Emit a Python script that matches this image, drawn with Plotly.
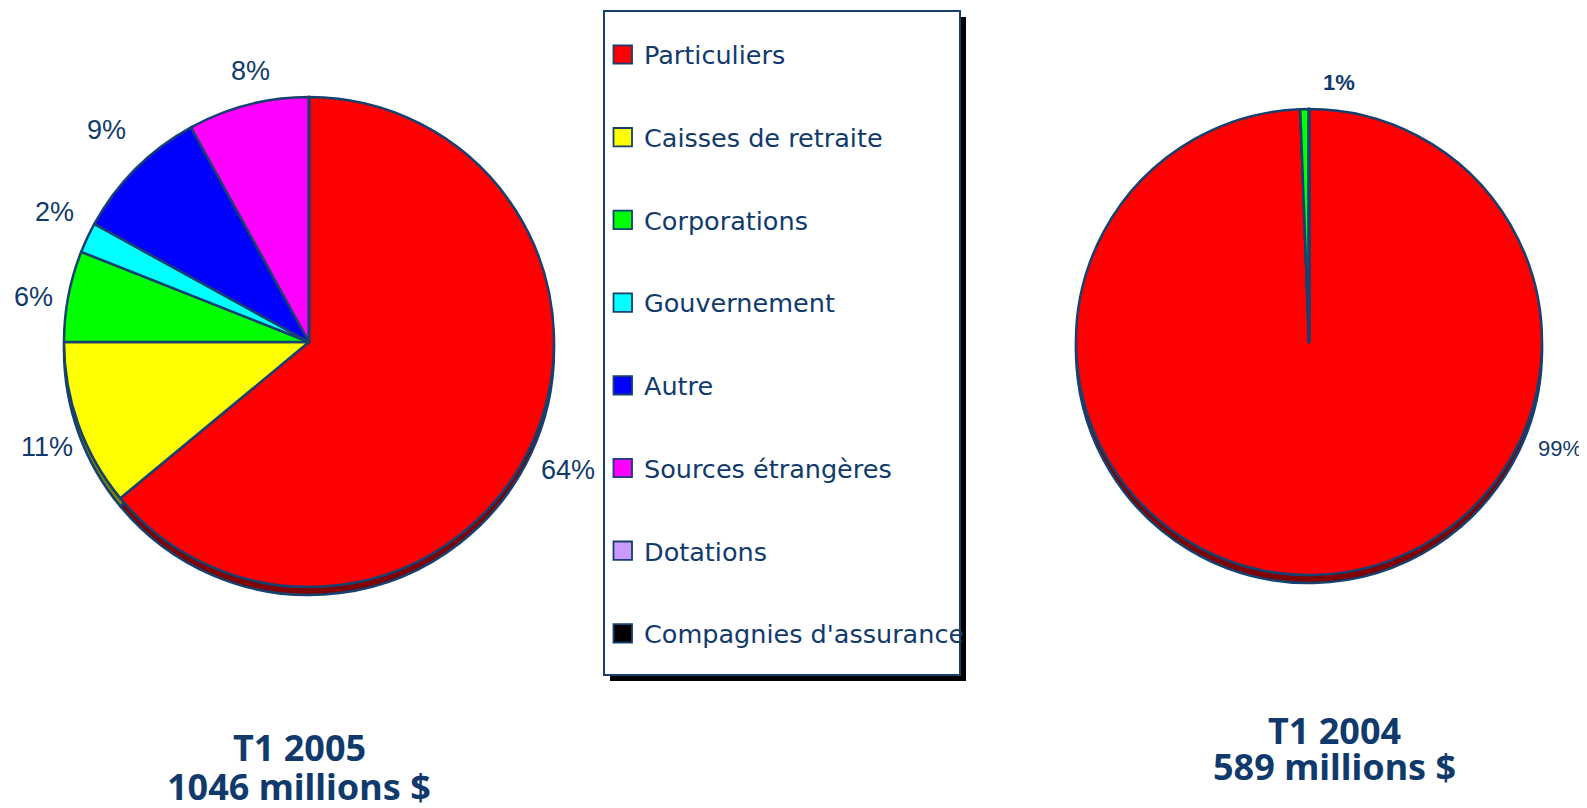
import plotly.graph_objects as go

# Page is 1587x808; the HTML body has an 8px margin, so the figure is drawn
# 8px smaller and every page coordinate is shifted by that margin.
PAGE_W, PAGE_H = 1587, 808
OFF = 8
W, H = PAGE_W - OFF, PAGE_H - OFF

# ---------------- data ----------------
categories = ["Particuliers", "Caisses de retraite", "Corporations", "Gouvernement",
              "Autre", "Sources étrangères", "Dotations", "Compagnies d'assurance"]
colors = ["#FF0000", "#FFFF00", "#00FF00", "#00FFFF", "#0000FF", "#FF00FF", "#CC99FF", "#000000"]
shadow_colors = ["#800000", "#808000", "#008000", "#008080", "#000080", "#800080", "#664C80", "#000000"]

share_2005 = [64, 11, 6, 2, 9, 8, 0, 0]      # % of 1046 M$
share_2004 = [99.4, 0, 0.6, 0, 0, 0, 0, 0]   # % of 589 M$

title_2005 = ["T1 2005", "1046 millions $"]
title_2004 = ["T1 2004", "589 millions $"]

# label positions (page pixels) for the non-zero slices of each pie
label_pos_2005 = {0: (568, 470), 1: (47, 447), 2: (34, 297), 3: (54, 212), 4: (106, 130), 5: (250, 71)}
label_pos_2004 = {0: (1560, 448), 2: (1339, 82)}

# ---------------- style / geometry ----------------
NAVY = "#113A6C"
OUTLINE = "#15406F"
SHADOW = 8

LEFT = dict(cx=309, cy=342, r=245)
RIGHT = dict(cx=1309, cy=342, r=233)


def px(x):
    return (x - OFF) / W


def py(y):
    return 1 - (y - OFF) / H


def pie_domain(cx, cy, r):
    return dict(x=[px(cx - r), px(cx + r)], y=[py(cy + r), py(cy - r)])


fig = go.Figure()


def add_pie(values, geo, name):
    # extruded "3D" edge
    fig.add_trace(go.Pie(
        labels=categories, values=values, sort=False, direction="clockwise", rotation=0,
        marker=dict(colors=shadow_colors, line=dict(color=OUTLINE, width=2.5)),
        domain=pie_domain(geo["cx"], geo["cy"] + SHADOW, geo["r"]),
        textinfo="none", hoverinfo="skip", showlegend=False, name=name + " ombre"))
    fig.add_trace(go.Pie(
        labels=categories, values=values, sort=False, direction="clockwise", rotation=0,
        marker=dict(colors=colors, line=dict(color=OUTLINE, width=2.5)),
        domain=pie_domain(geo["cx"], geo["cy"], geo["r"]),
        textinfo="none", hovertemplate="%{label}: %{percent}<extra></extra>",
        showlegend=False, name=name))


add_pie(share_2005, LEFT, "T1 2005")
add_pie(share_2004, RIGHT, "T1 2004")

annotations = []

total05 = sum(share_2005)
for i, (x, y) in label_pos_2005.items():
    annotations.append(dict(
        x=px(x), y=py(y), xref="paper", yref="paper", showarrow=False,
        text=f"{round(share_2005[i] / total05 * 100)}%", xanchor="center", yanchor="middle",
        font=dict(family="Liberation Sans, Arial, sans-serif", size=27, color=NAVY)))

total04 = sum(share_2004)
for i, (x, y) in label_pos_2004.items():
    pct = f"{round(share_2004[i] / total04 * 100)}%"
    annotations.append(dict(
        x=px(x), y=py(y), xref="paper", yref="paper", showarrow=False,
        text=pct if i == 0 else f"<b>{pct}</b>", xanchor="center", yanchor="middle",
        font=dict(family="Liberation Sans, Arial, sans-serif", size=22, color=NAVY)))

# titles below the pies
for lines, cx, ys in ((title_2005, 299, (747, 786)), (title_2004, 1334, (730, 766))):
    for txt, yy in zip(lines, ys):
        annotations.append(dict(
            x=px(cx), y=py(yy), xref="paper", yref="paper", showarrow=False,
            text=f"<b>{txt}</b>", xanchor="center", yanchor="middle",
            font=dict(family="Noto Sans, DejaVu Sans, sans-serif", size=36, color=NAVY)))

# ---------------- legend box (drawn manually) ----------------
shapes = []
BX0, BY0, BX1, BY1 = 604, 11, 960, 675
shapes.append(dict(type="rect", xref="paper", yref="paper",
                   x0=px(BX0 + 6), x1=px(BX1 + 6), y0=py(BY1 + 6), y1=py(BY0 + 6),
                   fillcolor="#000000", line=dict(width=0), layer="above"))
shapes.append(dict(type="rect", xref="paper", yref="paper",
                   x0=px(BX0), x1=px(BX1), y0=py(BY1), y1=py(BY0),
                   fillcolor="#FFFFFF", line=dict(color=OUTLINE, width=2), layer="above"))

for i, (cat, col) in enumerate(zip(categories, colors)):
    yc = 54.5 + 82.7 * i
    shapes.append(dict(type="rect", xref="paper", yref="paper",
                       x0=px(613.5), x1=px(632), y0=py(yc + 9.2), y1=py(yc - 9.2),
                       fillcolor=col, line=dict(color=OUTLINE, width=1.8), layer="above"))
    annotations.append(dict(
        x=px(642), y=py(yc + 0.8), xref="paper", yref="paper", showarrow=False,
        text=cat, xanchor="left", yanchor="middle",
        font=dict(family="DejaVu Sans, Verdana, sans-serif", size=25.5, color=NAVY)))

fig.update_layout(
    width=W, height=H,
    margin=dict(l=0, r=0, t=0, b=0),
    paper_bgcolor="white", plot_bgcolor="white",
    showlegend=False,
    shapes=shapes,
    annotations=annotations,
)

fig.write_html("out.html")
